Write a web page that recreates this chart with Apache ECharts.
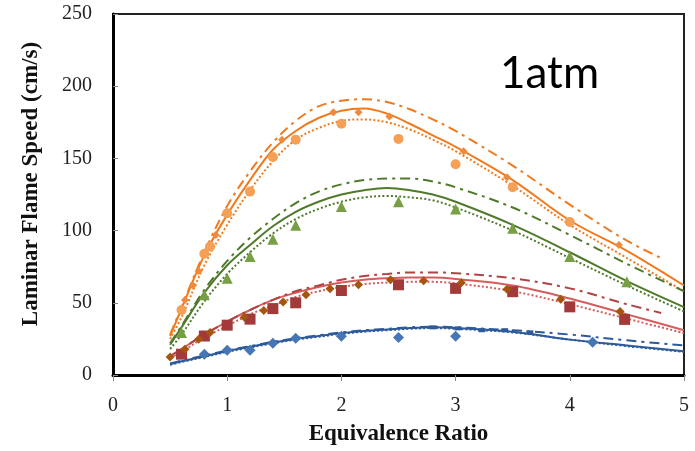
<!DOCTYPE html>
<html><head><meta charset="utf-8">
<script src="https://cdn.jsdelivr.net/npm/echarts@6/dist/echarts.min.js"></script>
<style>html,body{margin:0;padding:0;background:#fff}#c{width:695px;height:451px}</style>
</head><body><div id="c"></div>
<script>
// x positions of the model curves
const phiCurve = [0.5,0.6,0.8,1,1.2,1.4,1.6,1.8,2,2.2,2.4,2.6,2.8,3,3.5,4,4.5,5];
const phiCurveShort = [0.5,0.6,0.8,1,1.2,1.4,1.6,1.8,2,2.2,2.4,2.6,2.8,3,3.5,4,4.5,4.8];

// Orange group
const orangeSolid = [27,46,83,111,135,156,169,178,183,184.5,181,174,166,158,135,107,86,62];
const orangeDashDot = [28,47,85,117,141,161,176,186,190,191,189,184,177,169,145,118,93,81];
const orangeDotted = [25,40,76,104,128,148,163,171,176,177,175,170,163,155,131,104,81,58];
const orangeCircles = [[0.6,45],[0.8,84],[0.85,89],[1.0,112],[1.2,127],[1.4,151],[1.6,163],[2.0,174],[2.5,163.5],[3.0,146],[3.5,130],[4.0,106]];
const orangeSmall = [[0.63,52],[0.7,62],[0.75,72],[0.9,97],[1.48,163],[1.93,182],[2.15,182],[2.42,179],[3.07,155],[3.45,137],[4.43,90]];

// Green group
const greenSolid = [21,33,57,76,90,103,113,120,125,128,129.5,128,125,120,104,85,65,47];
const greenDashDot = [22,34,59,79,95,108,119,127,132,135,136,136,134,130,116,97,77,58];
const greenDotted = [18,28,51,70,85,98,108,115,120,123,124,123,121,116,100,81,62,44];
const greenTriangles = [[0.6,29.5],[0.8,55.6],[1.0,67],[1.2,82],[1.4,94],[1.6,103.7],[2.0,116.7],[2.5,120],[3.0,115],[3.5,101.6],[4.0,82],[4.5,64.6]];

// Red group
const redSolid = [13,18,28,37,45,52,57,61,64,66,67,67.5,67.5,66.5,62,53,42,31];
const redDashDot = [13,18,28,37,45,52,58,62,66,68.5,70,71,71,70.5,67,60,49,43];
const redDotted = [12,16,26,34,42,48,54,58,61,63,64,64.5,64.5,63.5,58,49,39,29];
const redSquares = [[0.6,14.4],[0.8,27],[1.0,34.5],[1.2,38.7],[1.4,46],[1.6,50],[2.0,58.5],[2.5,62.5],[3.0,60],[3.5,57.7],[4.0,47.2],[4.48,38.5]];
const brownDiamonds = [[0.5,12.4],[0.63,17.9],[0.75,24.7],[0.85,29.5],[1.15,40],[1.32,44.6],[1.49,50.5],[1.69,55.6],[1.9,59.7],[2.15,62.5],[2.43,66],[2.72,65.3],[3.05,63.9],[3.45,59.3],[3.92,52.4],[4.44,44]];

// Blue group
const blueSolid = [7.5,9.5,13,16.5,19.5,22.5,25,27,29,30.5,31.5,32.5,33,32.5,30,24.5,20.5,16.5];
const blueDashDot = [8,10,13.5,17,20,23,25.5,27.5,29.5,31,32,33,33.5,33,31,28,24,20.5];
const blueDotted = [7,9,12.5,16,19,22,24.5,26.5,28.5,30,31,32,32.5,32,29.5,24.5,20,16];
const blueDiamonds = [[0.8,14.4],[1.0,17.1],[1.2,17.2],[1.4,22],[1.6,25.4],[2.0,26.8],[2.5,26],[3.0,26.8],[4.2,22.7]];
const blueSmall = [[2.8,33],[3.02,32.3],[3.23,31],[3.43,31],[3.65,29.5]];

// Axis ticks
const xTicks = [0,1,2,3,4,5];
const yTicks = [0,50,100,150,200,250];

const zip = (xs, ys) => xs.map((x,i) => [x, ys[i]]);
const DASHDOT = [10,5,3,5];
const DOT = [2,2.2];

function line(name, xs, ys, color, type){
  return {name, type:'line', data: zip(xs, ys), showSymbol:false, symbol:'none', smooth:0.35,
    lineStyle:{color, width:2, type: type, cap:'butt'}, z:2, silent:true};
}
function scatter(name, data, color, symbol, size){
  return {name, type:'scatter', data, symbol, symbolSize:size, itemStyle:{color, opacity:1}, z:5, silent:true};
}

const C = {
  orange:'#f07a1e', orangeMk:'#f5a057', orangeSm:'#f08a3a',
  green:'#4f7a2a', greenMk:'#77a044',
  red:'#d55d5d', redMk:'#a33a3a', brown:'#a5560e',
  blue:'#2d5a9a', blueMk:'#4676b3'
};

const series = [
  line('oS', phiCurve, orangeSolid, C.orange, 'solid'),
  line('oD', phiCurveShort, orangeDashDot, C.orange, DASHDOT),
  line('oT', phiCurve, orangeDotted, C.orange, DOT),
  line('gS', phiCurve, greenSolid, C.green, 'solid'),
  line('gD', phiCurve, greenDashDot, C.green, DASHDOT),
  line('gT', phiCurve, greenDotted, C.green, DOT),
  line('rS', phiCurve, redSolid, C.red, 'solid'),
  line('rD', phiCurveShort, redDashDot, '#b04444', DASHDOT),
  line('rT', phiCurve, redDotted, C.red, DOT),
  line('bS', phiCurve, blueSolid, C.blue, 'solid'),
  line('bD', phiCurve, blueDashDot, C.blue, DASHDOT),
  line('bT', phiCurve, blueDotted, C.blue, DOT),
  scatter('oC', orangeCircles, C.orangeMk, 'circle', 10),
  scatter('oM', orangeSmall, C.orangeSm, 'diamond', 8),
  scatter('gM', greenTriangles, C.greenMk, 'triangle', 11),
  scatter('rM', redSquares, C.redMk, 'rect', 11),
  scatter('bM', brownDiamonds, C.brown, 'diamond', 9),
  scatter('blM', blueDiamonds, C.blueMk, 'diamond', 11),
  scatter('blS', blueSmall, C.blue, 'rect', [7,4])
];

const chart = echarts.init(document.getElementById('c'), null, {renderer:'canvas'});
chart.setOption({
  animation:false,
  backgroundColor:'#fff',
  grid:{left:113, right:11, top:14, bottom:73, show:true, borderColor:'#222', borderWidth:2, backgroundColor:'transparent'},
  xAxis:{type:'value', min:xTicks[0], max:xTicks[xTicks.length-1], interval:1,
    name:'Equivalence Ratio', nameLocation:'middle', nameGap:48,
    nameTextStyle:{fontFamily:'Liberation Serif', fontWeight:'bold', fontSize:23, color:'#111'},
    axisLine:{show:true, lineStyle:{color:'#000', width:3}},
    axisTick:{show:true, inside:false, length:6, lineStyle:{color:'#888', width:1}},
    axisLabel:{fontFamily:'Liberation Serif', fontSize:20, color:'#222', margin:21},
    splitLine:{show:false}},
  yAxis:{type:'value', min:yTicks[0], max:yTicks[yTicks.length-1], interval:50,
    axisLine:{show:true, lineStyle:{color:'#000', width:3}},
    axisTick:{show:true, inside:true, length:5, lineStyle:{color:'#888', width:1}},
    axisLabel:{fontFamily:'Liberation Serif', fontSize:20, color:'#222', margin:21},
    splitLine:{show:false}},
  graphic:[
    {type:'text', left:500, top:52, style:{text:'1atm', font:'44px Lato', fill:'#000'}},
    {type:'text', x:31, y:184, rotation:Math.PI/2,
     style:{text:'Laminar Flame Speed (cm/s)', font:'bold 23px "Liberation Serif"', fill:'#111', align:'center', verticalAlign:'middle'}}
  ],
  series
});
</script></body></html>
